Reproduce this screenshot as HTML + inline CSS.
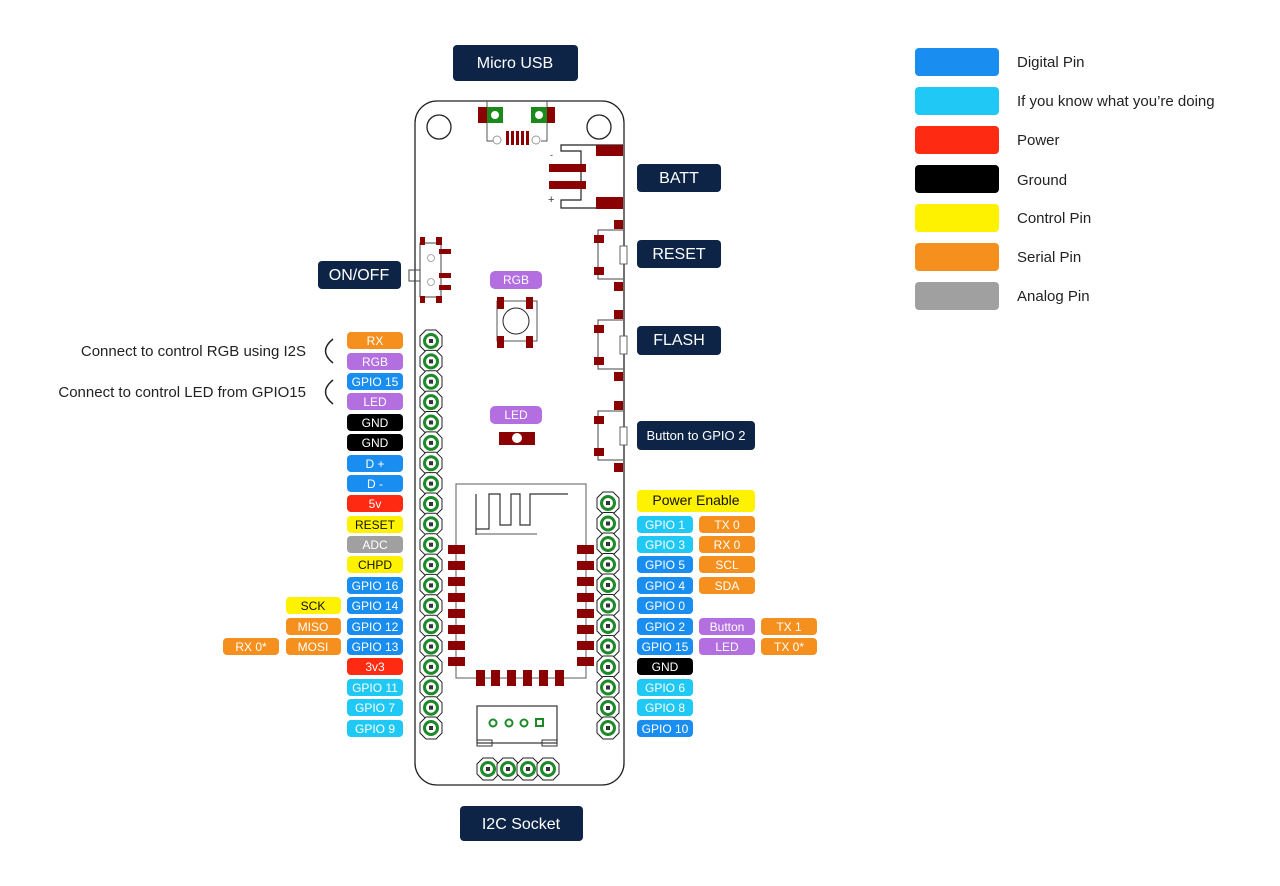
<!DOCTYPE html>
<html><head><meta charset="utf-8"><style>
html,body{margin:0;padding:0;background:#fff}
svg{display:block}
text{font-family:"Liberation Sans",sans-serif}
.l{font-size:12px;fill:#fff;text-anchor:middle}
.k{fill:#111}
.n{font-size:16px;fill:#fff;text-anchor:middle}
.lg{font-size:15px;fill:#222}
.c{font-size:15px;fill:#222;text-anchor:end}
</style></head><body>
<svg width="1280" height="886" viewBox="0 0 1280 886" xmlns="http://www.w3.org/2000/svg">
<defs>
<g id="p"><polygon points="-5,-11 5,-11 11,-5 11,5 5,11 -5,11 -11,5 -11,-5" fill="#fff" stroke="#222" stroke-width="1"/><circle r="6.5" fill="#fff" stroke="#1d8a2a" stroke-width="3"/><rect x="-2" y="-2" width="4" height="4" fill="#333"/></g>
</defs>
<!-- legend -->
<g>
<rect x="915" y="48" width="84" height="28" rx="4" fill="#1a8ef0"/><text x="1017" y="67" class="lg">Digital Pin</text>
<rect x="915" y="87" width="84" height="28" rx="4" fill="#20c8f5"/><text x="1017" y="106" class="lg">If you know what you’re doing</text>
<rect x="915" y="126" width="84" height="28" rx="4" fill="#ff2a12"/><text x="1017" y="145" class="lg">Power</text>
<rect x="915" y="165" width="84" height="28" rx="4" fill="#000"/><text x="1017" y="185" class="lg">Ground</text>
<rect x="915" y="204" width="84" height="28" rx="4" fill="#fff200"/><text x="1017" y="223" class="lg">Control Pin</text>
<rect x="915" y="243" width="84" height="28" rx="4" fill="#f5901e"/><text x="1017" y="262" class="lg">Serial Pin</text>
<rect x="915" y="282" width="84" height="28" rx="4" fill="#a0a0a0"/><text x="1017" y="301" class="lg">Analog Pin</text>
</g>
<!-- board -->
<rect x="415" y="101" width="209" height="684" rx="22" fill="#fff" stroke="#222" stroke-width="1.3"/>
<circle cx="439" cy="127" r="12" fill="none" stroke="#222" stroke-width="1.3"/>
<circle cx="599" cy="127" r="12" fill="none" stroke="#222" stroke-width="1.3"/>
<!-- usb -->
<path d="M487 101 V141 H493 M547 101 V141 H541" fill="none" stroke="#555"/>
<rect x="478" y="107" width="10" height="16" fill="#8b0000"/><rect x="487" y="107" width="16" height="16" fill="#1a8a1a"/><circle cx="495" cy="115" r="4" fill="#fff"/>
<rect x="531" y="107" width="16" height="16" fill="#1a8a1a"/><circle cx="539" cy="115" r="4" fill="#fff"/><rect x="547" y="107" width="8" height="16" fill="#8b0000"/>
<circle cx="497" cy="140" r="4" fill="none" stroke="#999"/><circle cx="536" cy="140" r="4" fill="none" stroke="#999"/>
<g fill="#8b0000"><rect x="506" y="131" width="3" height="14"/><rect x="511" y="131" width="3" height="14"/><rect x="516" y="131" width="3" height="14"/><rect x="521" y="131" width="3" height="14"/><rect x="526" y="131" width="3" height="14"/></g>
<!-- batt -->
<path d="M623 145 H561 V151 H581 V200 H561 V208 H623" fill="none" stroke="#222" stroke-width="1.2"/>
<rect x="596" y="145" width="27" height="11" fill="#8b0000"/><rect x="596" y="197" width="27" height="12" fill="#8b0000"/>
<rect x="549" y="164" width="37" height="8" fill="#8b0000"/><rect x="549" y="181" width="37" height="8" fill="#8b0000"/>
<text x="550" y="158" font-size="9" fill="#333">-</text><text x="548" y="203" font-size="11" fill="#333">+</text>
<!-- switch -->
<rect x="420" y="243" width="21" height="54" fill="none" stroke="#444"/>
<rect x="409" y="270" width="11" height="11" fill="none" stroke="#444"/>
<circle cx="431" cy="258" r="3.5" fill="none" stroke="#aaa"/><circle cx="431" cy="282" r="3.5" fill="none" stroke="#aaa"/>
<g fill="#8b0000"><rect x="420" y="237" width="5" height="8"/><rect x="436" y="237" width="6" height="8"/><rect x="420" y="296" width="5" height="7"/><rect x="436" y="296" width="6" height="7"/><rect x="439" y="249" width="12" height="5"/><rect x="439" y="273" width="12" height="5"/><rect x="439" y="285" width="12" height="5"/></g>
<!-- buttons -->
<g id="btn">
<path d="M623 230 H598 V279 H623" fill="none" stroke="#444"/>
<rect x="620" y="246" width="7" height="18" fill="#fff" stroke="#666"/>
<g fill="#8b0000"><rect x="594" y="235" width="10" height="8"/><rect x="594" y="267" width="10" height="8"/><rect x="614" y="220" width="9" height="9"/><rect x="614" y="282" width="9" height="9"/></g>
</g>
<use href="#btn" y="90"/><use href="#btn" y="181"/>
<!-- rgb -->
<rect x="490" y="271" width="52" height="18" rx="5" fill="#b36ee0"/><text x="516" y="284" class="l">RGB</text>
<rect x="497" y="301" width="40" height="40" fill="none" stroke="#555"/><circle cx="516" cy="321" r="13" fill="none" stroke="#222"/>
<g fill="#8b0000"><rect x="497" y="297" width="7" height="12"/><rect x="526" y="297" width="7" height="12"/><rect x="497" y="336" width="7" height="12"/><rect x="526" y="336" width="7" height="12"/></g>
<rect x="490" y="406" width="52" height="18" rx="5" fill="#b36ee0"/><text x="516" y="419" class="l">LED</text>
<rect x="499" y="432" width="36" height="13" fill="#8b0000"/><circle cx="517" cy="438" r="5" fill="#fff"/>
<!-- wifi module -->
<rect x="456" y="484" width="130" height="194" fill="none" stroke="#777" stroke-width="1.2"/>
<path d="M476 535 V494 M476 494 V529 H489 V494 H500 V525 H511 V494 H520 V525 H530 V494 H568" fill="none" stroke="#333" stroke-width="1.2"/>
<path d="M476 534 H537" stroke="#555"/>
<g fill="#8b0000">
<rect x="448" y="545" width="17" height="9"/><rect x="448" y="561" width="17" height="9"/><rect x="448" y="577" width="17" height="9"/><rect x="448" y="593" width="17" height="9"/><rect x="448" y="609" width="17" height="9"/><rect x="448" y="625" width="17" height="9"/><rect x="448" y="641" width="17" height="9"/><rect x="448" y="657" width="17" height="9"/>
<rect x="577" y="545" width="17" height="9"/><rect x="577" y="561" width="17" height="9"/><rect x="577" y="577" width="17" height="9"/><rect x="577" y="593" width="17" height="9"/><rect x="577" y="609" width="17" height="9"/><rect x="577" y="625" width="17" height="9"/><rect x="577" y="641" width="17" height="9"/><rect x="577" y="657" width="17" height="9"/>
<rect x="476" y="670" width="9" height="16"/><rect x="491" y="670" width="9" height="16"/><rect x="507" y="670" width="9" height="16"/><rect x="523" y="670" width="9" height="16"/><rect x="539" y="670" width="9" height="16"/><rect x="555" y="670" width="9" height="16"/>
</g>
<rect x="477" y="706" width="80" height="37" fill="none" stroke="#333" stroke-width="1.2"/>
<rect x="477" y="740" width="15" height="6" fill="none" stroke="#333"/><rect x="542" y="740" width="15" height="6" fill="none" stroke="#333"/>
<g fill="none" stroke="#1d8a2a" stroke-width="2"><circle cx="493" cy="723" r="3.5"/><circle cx="509" cy="723" r="3.5"/><circle cx="524" cy="723" r="3.5"/><rect x="536" y="719" width="7" height="7"/></g>
<!-- pins -->
<g>
<use href="#p" x="431" y="341"/><use href="#p" x="431" y="361.4"/><use href="#p" x="431" y="381.7"/><use href="#p" x="431" y="402.1"/><use href="#p" x="431" y="422.5"/><use href="#p" x="431" y="442.9"/><use href="#p" x="431" y="463.2"/><use href="#p" x="431" y="483.6"/><use href="#p" x="431" y="504"/><use href="#p" x="431" y="524.3"/><use href="#p" x="431" y="544.7"/><use href="#p" x="431" y="565.1"/><use href="#p" x="431" y="585.4"/><use href="#p" x="431" y="605.8"/><use href="#p" x="431" y="626.2"/><use href="#p" x="431" y="646.6"/><use href="#p" x="431" y="666.9"/><use href="#p" x="431" y="687.3"/><use href="#p" x="431" y="707.7"/><use href="#p" x="431" y="728"/>
<use href="#p" x="608" y="503"/><use href="#p" x="608" y="523.5"/><use href="#p" x="608" y="544"/><use href="#p" x="608" y="564.5"/><use href="#p" x="608" y="585"/><use href="#p" x="608" y="605.5"/><use href="#p" x="608" y="626"/><use href="#p" x="608" y="646.5"/><use href="#p" x="608" y="667"/><use href="#p" x="608" y="687.5"/><use href="#p" x="608" y="708"/><use href="#p" x="608" y="728"/>
<use href="#p" x="488" y="769"/><use href="#p" x="508" y="769"/><use href="#p" x="528" y="769"/><use href="#p" x="548" y="769"/>
</g>
<!-- left labels -->
<g>
<rect x="347" y="332" width="56" height="17" rx="4" fill="#f5901e"/><text x="375" y="345" class="l">RX</text>
<rect x="347" y="353" width="56" height="17" rx="4" fill="#b36ee0"/><text x="375" y="366" class="l">RGB</text>
<rect x="347" y="373" width="56" height="17" rx="4" fill="#1a8ef0"/><text x="375" y="386" class="l">GPIO 15</text>
<rect x="347" y="393" width="56" height="17" rx="4" fill="#b36ee0"/><text x="375" y="406" class="l">LED</text>
<rect x="347" y="414" width="56" height="17" rx="4" fill="#000"/><text x="375" y="427" class="l">GND</text>
<rect x="347" y="434" width="56" height="17" rx="4" fill="#000"/><text x="375" y="447" class="l">GND</text>
<rect x="347" y="455" width="56" height="17" rx="4" fill="#1a8ef0"/><text x="375" y="468" class="l">D +</text>
<rect x="347" y="475" width="56" height="17" rx="4" fill="#1a8ef0"/><text x="375" y="488" class="l">D -</text>
<rect x="347" y="495" width="56" height="17" rx="4" fill="#ff2a12"/><text x="375" y="508" class="l">5v</text>
<rect x="347" y="516" width="56" height="17" rx="4" fill="#fff200"/><text x="375" y="529" class="l k">RESET</text>
<rect x="347" y="536" width="56" height="17" rx="4" fill="#a0a0a0"/><text x="375" y="549" class="l">ADC</text>
<rect x="347" y="556" width="56" height="17" rx="4" fill="#fff200"/><text x="375" y="569" class="l k">CHPD</text>
<rect x="347" y="577" width="56" height="17" rx="4" fill="#1a8ef0"/><text x="375" y="590" class="l">GPIO 16</text>
<rect x="347" y="597" width="56" height="17" rx="4" fill="#1a8ef0"/><text x="375" y="610" class="l">GPIO 14</text>
<rect x="347" y="618" width="56" height="17" rx="4" fill="#1a8ef0"/><text x="375" y="631" class="l">GPIO 12</text>
<rect x="347" y="638" width="56" height="17" rx="4" fill="#1a8ef0"/><text x="375" y="651" class="l">GPIO 13</text>
<rect x="347" y="658" width="56" height="17" rx="4" fill="#ff2a12"/><text x="375" y="671" class="l">3v3</text>
<rect x="347" y="679" width="56" height="17" rx="4" fill="#20c8f5"/><text x="375" y="692" class="l">GPIO 11</text>
<rect x="347" y="699" width="56" height="17" rx="4" fill="#20c8f5"/><text x="375" y="712" class="l">GPIO 7</text>
<rect x="347" y="720" width="56" height="17" rx="4" fill="#20c8f5"/><text x="375" y="733" class="l">GPIO 9</text>
<rect x="286" y="597" width="55" height="17" rx="4" fill="#fff200"/><text x="313" y="610" class="l k">SCK</text>
<rect x="286" y="618" width="55" height="17" rx="4" fill="#f5901e"/><text x="313" y="631" class="l">MISO</text>
<rect x="286" y="638" width="55" height="17" rx="4" fill="#f5901e"/><text x="313" y="651" class="l">MOSI</text>
<rect x="223" y="638" width="56" height="17" rx="4" fill="#f5901e"/><text x="251" y="651" class="l">RX 0*</text>
</g>
<path d="M333 339 Q318 351 333 363 M333 380 Q318 392 333 404" fill="none" stroke="#222" stroke-width="1.5"/>
<text x="306" y="356" class="c">Connect to control RGB using I2S</text>
<text x="306" y="397" class="c">Connect to control LED from GPIO15</text>
<!-- right labels -->
<g>
<rect x="637" y="490" width="118" height="22" rx="4" fill="#fff200"/><text x="696" y="505" class="l k" style="font-size:14px">Power Enable</text>
<rect x="637" y="516" width="56" height="17" rx="4" fill="#20c8f5"/><text x="665" y="529" class="l">GPIO 1</text>
<rect x="699" y="516" width="56" height="17" rx="4" fill="#f5901e"/><text x="727" y="529" class="l">TX 0</text>
<rect x="637" y="536" width="56" height="17" rx="4" fill="#20c8f5"/><text x="665" y="549" class="l">GPIO 3</text>
<rect x="699" y="536" width="56" height="17" rx="4" fill="#f5901e"/><text x="727" y="549" class="l">RX 0</text>
<rect x="637" y="556" width="56" height="17" rx="4" fill="#1a8ef0"/><text x="665" y="569" class="l">GPIO 5</text>
<rect x="699" y="556" width="56" height="17" rx="4" fill="#f5901e"/><text x="727" y="569" class="l">SCL</text>
<rect x="637" y="577" width="56" height="17" rx="4" fill="#1a8ef0"/><text x="665" y="590" class="l">GPIO 4</text>
<rect x="699" y="577" width="56" height="17" rx="4" fill="#f5901e"/><text x="727" y="590" class="l">SDA</text>
<rect x="637" y="597" width="56" height="17" rx="4" fill="#1a8ef0"/><text x="665" y="610" class="l">GPIO 0</text>
<rect x="637" y="618" width="56" height="17" rx="4" fill="#1a8ef0"/><text x="665" y="631" class="l">GPIO 2</text>
<rect x="699" y="618" width="56" height="17" rx="4" fill="#b36ee0"/><text x="727" y="631" class="l">Button</text>
<rect x="761" y="618" width="56" height="17" rx="4" fill="#f5901e"/><text x="789" y="631" class="l">TX 1</text>
<rect x="637" y="638" width="56" height="17" rx="4" fill="#1a8ef0"/><text x="665" y="651" class="l">GPIO 15</text>
<rect x="699" y="638" width="56" height="17" rx="4" fill="#b36ee0"/><text x="727" y="651" class="l">LED</text>
<rect x="761" y="638" width="56" height="17" rx="4" fill="#f5901e"/><text x="789" y="651" class="l">TX 0*</text>
<rect x="637" y="658" width="56" height="17" rx="4" fill="#000"/><text x="665" y="671" class="l">GND</text>
<rect x="637" y="679" width="56" height="17" rx="4" fill="#20c8f5"/><text x="665" y="692" class="l">GPIO 6</text>
<rect x="637" y="699" width="56" height="17" rx="4" fill="#20c8f5"/><text x="665" y="712" class="l">GPIO 8</text>
<rect x="637" y="720" width="56" height="17" rx="4" fill="#1a8ef0"/><text x="665" y="733" class="l">GPIO 10</text>
</g>
<!-- navy boxes -->
<g fill="#0e2447">
<rect x="453" y="45" width="125" height="36" rx="4"/><rect x="637" y="164" width="84" height="28" rx="4"/><rect x="637" y="240" width="84" height="28" rx="4"/><rect x="637" y="326" width="84" height="29" rx="4"/><rect x="637" y="421" width="118" height="29" rx="4"/><rect x="318" y="261" width="83" height="28" rx="4"/><rect x="460" y="806" width="123" height="35" rx="4"/>
</g>
<text x="515" y="68" class="n">Micro USB</text>
<text x="679" y="183" class="n">BATT</text>
<text x="679" y="259" class="n">RESET</text>
<text x="679" y="345" class="n">FLASH</text>
<text x="696" y="440" class="n" style="font-size:13px">Button to GPIO 2</text>
<text x="359" y="280" class="n">ON/OFF</text>
<text x="521" y="829" class="n">I2C Socket</text>
</svg>
</body></html>
